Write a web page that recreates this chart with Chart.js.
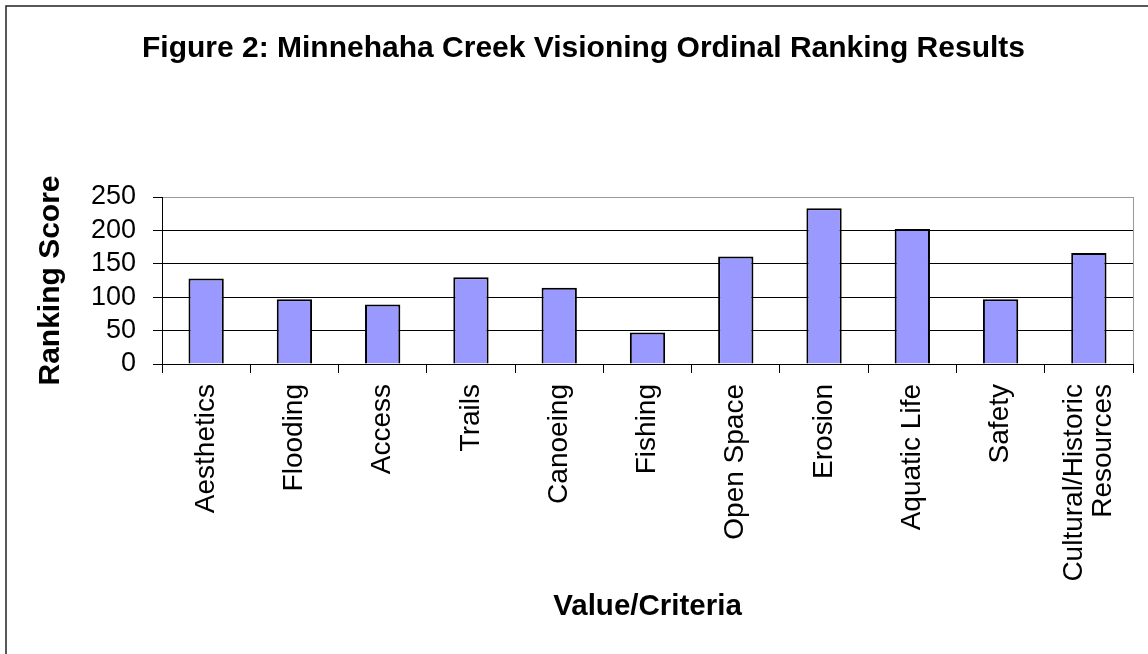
<!DOCTYPE html>
<html lang="en">
  <head>
    <meta charset="UTF-8" />
    <title>Minnehaha Creek Visioning Ordinal Ranking Results</title>
    <style>
      * {
        margin: 0;
        padding: 0;
        box-sizing: border-box;
      }

      body {
        width: 1148px;
        height: 654px;
        overflow: hidden;
        background: white;
      }

      /* the original figure is cropped at the right edge, so the chart box is a bit wider */
      .chartBox {
        width: 1167px;
        height: 654px;
      }
    </style>
  </head>
  <body>
    <div class="chartBox">
      <canvas id="myChart"></canvas>
    </div>

    <script src="https://cdn.jsdelivr.net/npm/chart.js"></script>
    <script>
      const categories = [
        "Aesthetics",
        "Flooding",
        "Access",
        "Trails",
        "Canoeing",
        "Fishing",
        "Open Space",
        "Erosion",
        "Aquatic Life",
        "Safety",
        ["Cultural/Historic", "Resources"],
      ];
      const scores = [128, 97, 89, 130, 114, 47, 161, 233, 202, 97, 166];
      const yTicks = [0, 50, 100, 150, 200, 250];

      const titleText = "Figure 2: Minnehaha Creek Visioning Ordinal Ranking Results";
      const xTitle = "Value/Criteria";
      const yTitle = "Ranking Score";

      Chart.defaults.font.family = "'Liberation Sans', Arial, sans-serif";
      Chart.defaults.color = "#000";

      const ctx = document.getElementById("myChart");

      // outer frame of the figure (only left and top edges are visible)
      const figureFrame = {
        id: "figureFrame",
        beforeDraw(chart) {
          const { ctx, width, height } = chart;
          ctx.save();
          ctx.strokeStyle = "#222";
          ctx.lineWidth = 1.5;
          ctx.beginPath();
          ctx.moveTo(6, height + 5);
          ctx.lineTo(6, 6);
          ctx.lineTo(width + 5, 6);
          ctx.stroke();
          ctx.restore();
        },
      };

      // grey border of the plot area, right side
      const plotFrame = {
        id: "plotFrame",
        beforeDatasetsDraw(chart) {
          const {
            ctx,
            chartArea: { top, bottom, right },
          } = chart;
          ctx.save();
          ctx.strokeStyle = "#999";
          ctx.lineWidth = 1;
          ctx.beginPath();
          ctx.moveTo(Math.round(right) + 0.5, top);
          ctx.lineTo(Math.round(right) + 0.5, bottom);
          ctx.stroke();
          ctx.restore();
        },
      };

      // centre the two-line label on its tick, like the original
      const centerMultiline = {
        id: "centerMultiline",
        beforeDraw(chart) {
          const items = chart.scales.x.getLabelItems();
          items.forEach((item) => {
            if (Array.isArray(item.label) && !item._centered && item.font) {
              const lh = item.font.lineHeight;
              item.options.translation[0] -= (lh * (item.label.length - 1)) / 2;
              item._centered = true;
            }
          });
        },
      };

      const data = {
        labels: categories,
        datasets: [
          {
            label: yTitle,
            data: scores,
            backgroundColor: "#9999ff",
            borderColor: "#000",
            borderWidth: 2,
            categoryPercentage: 0.4,
            barPercentage: 1,
          },
        ],
      };

      const config = {
        type: "bar",
        data: data,
        options: {
          responsive: true,
          maintainAspectRatio: false,
          animation: false,
          layout: {
            padding: 0,
          },
          plugins: {
            legend: { display: false },
            tooltip: { enabled: false },
            title: {
              display: true,
              text: titleText,
              color: "#000",
              font: { size: 30, weight: "bold", lineHeight: 1.2 },
              padding: { top: 31, bottom: 130 },
            },
          },
          scales: {
            x: {
              afterFit(scale) {
                scale.height = 290;
              },
              grid: {
                display: true,
                drawOnChartArea: false,
                drawTicks: true,
                tickLength: 9,
                color: "#000",
              },
              border: { display: true, color: "#000", width: 1 },
              ticks: {
                autoSkip: false,
                maxRotation: 90,
                minRotation: 90,
                padding: 11,
                color: "#000",
                font: { size: 28, lineHeight: 1.04 },
              },
              title: {
                display: true,
                text: xTitle,
                color: "#000",
                font: { size: 29.5, weight: "bold", lineHeight: 1.2 },
                padding: { top: 0, bottom: 29.3 },
              },
            },
            y: {
              min: 0,
              max: 250,
              afterFit(scale) {
                scale.width = 162;
              },
              afterBuildTicks(scale) {
                scale.ticks = yTicks.map((v) => ({ value: v }));
              },
              grid: {
                drawTicks: true,
                tickLength: 9,
                color: (c) => (c.tick && c.tick.value === 250 ? "#999" : "#000"),
                tickColor: "#000",
              },
              border: { display: true, color: "#000", width: 1 },
              ticks: {
                autoSkip: false,
                padding: 17,
                color: "#000",
                font: { size: 27 },
              },
              title: {
                display: true,
                text: yTitle,
                color: "#000",
                font: { size: 30, weight: "bold", lineHeight: 1.2 },
                padding: { top: 33, bottom: 0 },
              },
            },
            // empty spacer on the right: keeps the plot area off the cropped edge
            spacer: {
              type: "linear",
              position: "right",
              afterFit(scale) {
                scale.width = 34;
              },
              grid: { display: false },
              border: { display: false },
              ticks: { display: false },
            },
          },
        },
        plugins: [figureFrame, plotFrame, centerMultiline],
      };

      const myChart = new Chart(ctx, config);
    </script>
  </body>
</html>
